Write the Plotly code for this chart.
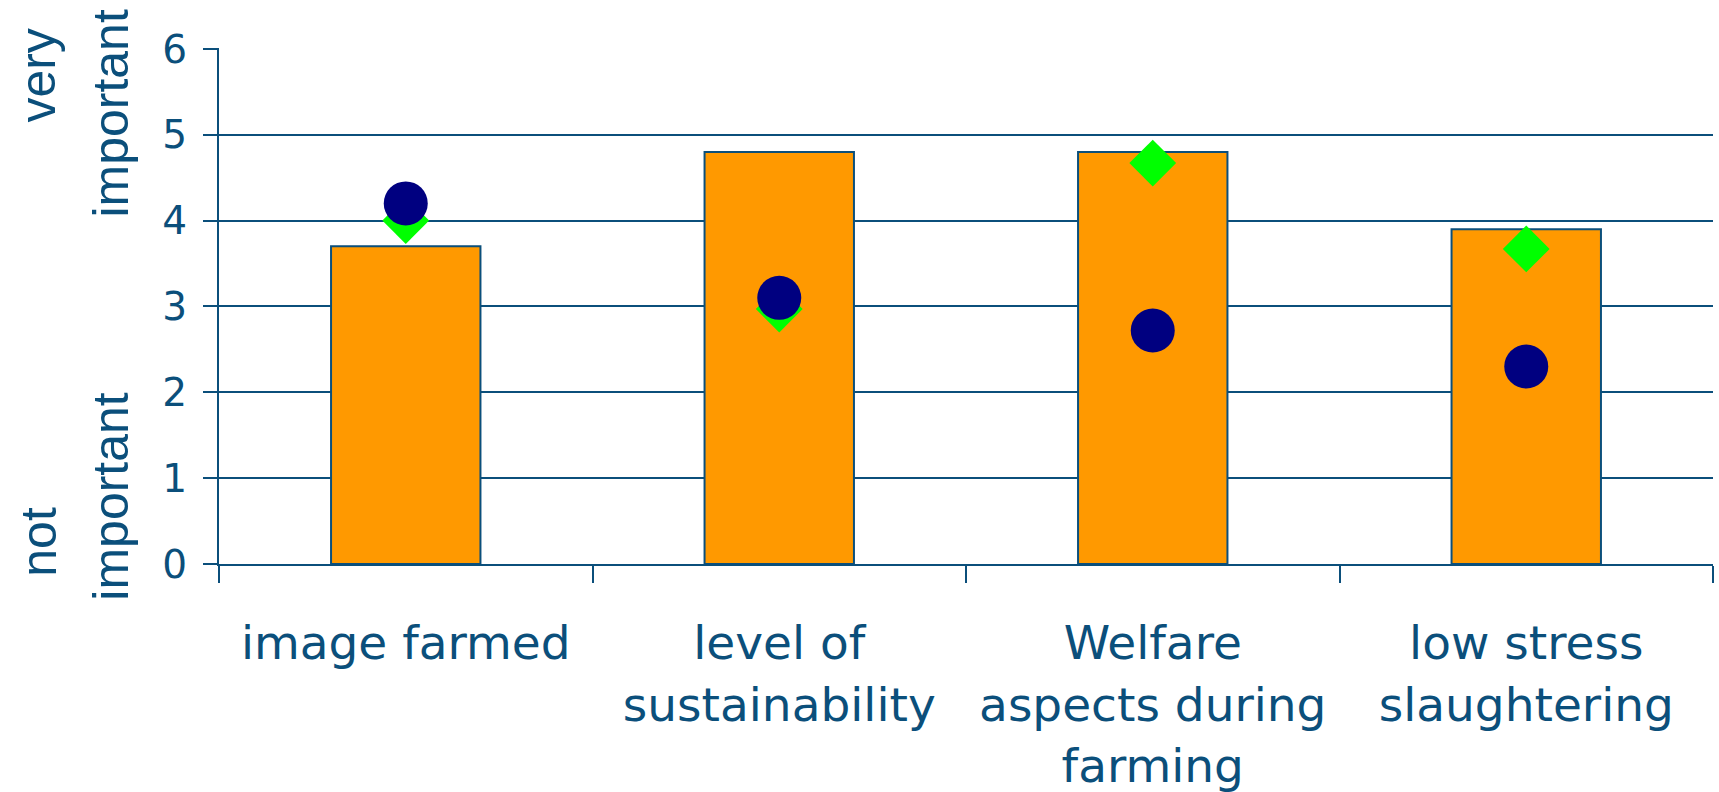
import plotly.graph_objects as go

categories = ["image farmed", "level of<br>sustainability",
              "Welfare<br>aspects during<br>farming", "low stress<br>slaughtering"]
bar_values = [3.7, 4.8, 4.8, 3.9]
diamond_values = [4.0, 2.97, 4.67, 3.67]
circle_values = [4.2, 3.1, 2.72, 2.3]
y_tick_values = [0, 1, 2, 3, 4, 5, 6]
y_range = [0, 6.01]

BLUE = "#0B4F7B"
W, H = 1719, 792
L, R, T, B = 219, 6, 48.4, 227.7
PW, PH = W - L - R, H - T - B

fig = go.Figure()
fig.add_trace(go.Bar(x=categories, y=bar_values, width=0.4,
                     marker=dict(color="#FF9900", line=dict(color=BLUE, width=2)),
                     showlegend=False, hoverinfo="skip"))
fig.add_trace(go.Scatter(x=categories, y=diamond_values, mode="markers",
                         marker=dict(symbol="diamond", size=36, color="#00FF00",
                                     line=dict(width=0)),
                         showlegend=False))
fig.add_trace(go.Scatter(x=categories, y=circle_values, mode="markers",
                         marker=dict(symbol="circle", size=44, color="#000080",
                                     line=dict(width=0)),
                         showlegend=False))

def px(xp):
    return (xp - L) / PW

def py(yp):
    return (H - B - yp) / PH

title_font = dict(family="Liberation Sans, Arial", size=50, color=BLUE)
for text, xp, yp in [("very", 38, 76), ("important", 111, 114),
                     ("not", 39, 542), ("important", 111, 497)]:
    fig.add_annotation(text=text, xref="paper", yref="paper", x=px(xp), y=py(yp),
                       xanchor="center", yanchor="middle", textangle=-90,
                       showarrow=False, font=title_font)

fig.update_layout(
    width=W, height=H,
    margin=dict(l=L, r=R, t=T, b=B, pad=0, autoexpand=False),
    paper_bgcolor="white", plot_bgcolor="white",
    bargap=0.6,
    xaxis=dict(type="category", tickson="boundaries", ticks="outside", ticklen=17,
               tickwidth=2, tickcolor=BLUE, showline=True, linecolor=BLUE, linewidth=2,
               showgrid=False, ticklabelstandoff=37, automargin=False,
               tickfont=dict(family="DejaVu Sans", size=47, color=BLUE)),
    yaxis=dict(range=y_range, tickvals=y_tick_values, ticks="outside", ticklen=14,
               tickwidth=2, tickcolor=BLUE, showline=True, linecolor=BLUE, linewidth=2,
               showgrid=True, gridcolor=BLUE, gridwidth=2, zeroline=False,
               ticklabelstandoff=8, automargin=False,
               tickfont=dict(family="DejaVu Sans", size=39, color=BLUE)),
)

fig.write_html("out.html")
